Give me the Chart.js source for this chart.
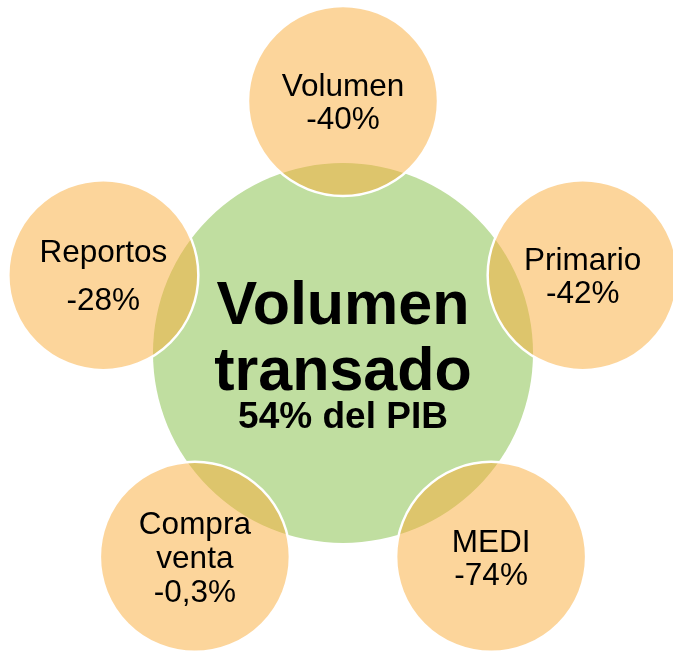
<!DOCTYPE html>
<html>
<head>
<meta charset="utf-8">
<script src="https://cdn.jsdelivr.net/npm/chart.js@4"></script>
<style>
    body { margin: 0; background: #fff; }
    canvas { display: block; }
</style>
</head>
<body>
<canvas id="circleChart" width="673" height="654"></canvas>
<script>
// markets around the center, clockwise from the top
const markets = [['Volumen'], ['Primario'], ['MEDI'], ['Compra', 'venta'], ['Reportos']];
const changes = [-40, -42, -74, -0.3, -28];   // % change
const centerTitle = ['Volumen', 'transado'];
const centerShare = 54;                        // % del PIB

// layout (pixels)
const cx = 343, cy = 353, ring = 252;
const lineGap = [33, 33, 33, 34, 48];
const font = '"Liberation Sans", Arial, sans-serif';

const fmt = v => v.toLocaleString('es-ES', { maximumFractionDigits: 1 }) + '%';

const outerPoints = markets.map((m, i) => {
    const a = (-90 + i * 72) * Math.PI / 180;
    return { x: cx + ring * Math.cos(a), y: cy + ring * Math.sin(a), r: 95 };
});

const labelPlugin = {
    id: 'labels',
    afterDatasetsDraw(chart) {
        const ctx = chart.ctx;
        ctx.save();
        ctx.fillStyle = '#000';
        ctx.textAlign = 'center';
        ctx.textBaseline = 'alphabetic';

        // small circles
        const meta = chart.getDatasetMeta(0);
        ctx.font = '31.5px ' + font;
        meta.data.forEach((pt, i) => {
            const lines = markets[i].concat(fmt(changes[i]));
            const s = lineGap[i];
            const cap = 22.5;
            let y = pt.y - ((lines.length - 1) * s + cap) / 2 + cap;
            lines.forEach(t => {
                ctx.fillText(t, pt.x, y);
                y += s;
            });
        });

        // big circle
        const c = chart.getDatasetMeta(1).data[0];
        ctx.font = 'bold 61px ' + font;
        ctx.fillText(centerTitle[0], c.x, c.y - 29);
        ctx.fillText(centerTitle[1], c.x, c.y + 37);
        ctx.font = 'bold 37px ' + font;
        ctx.fillText(centerShare + '% del PIB', c.x, c.y + 75);
        ctx.restore();
    }
};

new Chart(document.getElementById('circleChart').getContext('2d'), {
    type: 'bubble',
    data: {
        datasets: [{
            label: 'Mercados',
            data: outerPoints,
            backgroundColor: 'rgba(249, 171, 55, 0.5)',
            borderColor: '#ffffff',
            borderWidth: 2.5,
            clip: false,
            order: 1
        }, {
            label: 'Volumen transado',
            data: [{ x: cx, y: cy, r: 190 }],
            backgroundColor: 'rgb(192, 222, 160)',
            borderWidth: 0,
            clip: false,
            order: 2
        }]
    },
    options: {
        responsive: false,
        animation: false,
        events: [],
        layout: { padding: 0, autoPadding: false },
        scales: {
            x: { type: 'linear', min: 0, max: 673, display: false },
            y: { type: 'linear', min: 0, max: 654, reverse: true, display: false }
        },
        plugins: {
            legend: { display: false },
            tooltip: { enabled: false }
        }
    },
    plugins: [labelPlugin]
});
</script>
</body>
</html>
